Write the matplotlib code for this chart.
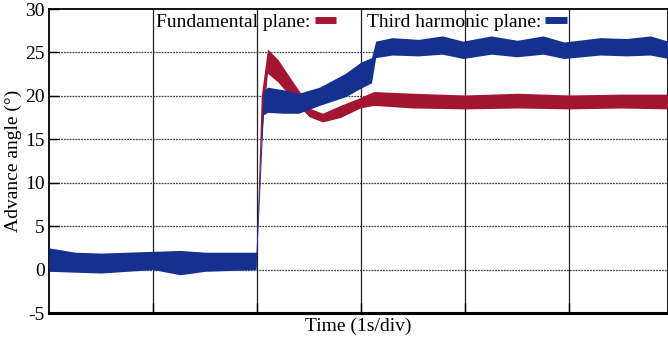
import matplotlib.pyplot as plt
from matplotlib.lines import Line2D

plt.rcParams['font.family'] = ['Liberation Serif', 'DejaVu Serif']
plt.rcParams['axes.unicode_minus'] = False

RED = "#a31530"
BLUE = "#16308f"

# time in divisions (1 s/div); band envelopes
fund_t = [0.0, 0.5, 1.0, 1.5, 1.99, 2.04, 2.1, 2.2, 2.3, 2.42, 2.5, 2.63,
          2.8, 2.99, 3.12, 3.5, 4.0, 4.5, 5.0, 5.5, 5.95]
fund_lo = [0.3, 0.3, 0.3, 0.3, 0.3, 15.0, 22.6, 21.6, 20.2, 18.6, 17.6, 17.0,
           17.5, 18.6, 18.9, 18.6, 18.5, 18.6, 18.5, 18.6, 18.5]
fund_hi = [0.8, 0.8, 0.8, 0.8, 0.8, 20.0, 25.4, 24.2, 22.4, 20.3, 18.6, 18.0,
           18.9, 19.8, 20.5, 20.3, 20.1, 20.3, 20.1, 20.2, 20.2]

third_t = [0.0, 0.25, 0.5, 1.0, 1.26, 1.5, 1.99, 2.06, 2.1, 2.25, 2.4, 2.6,
           2.85, 3.0, 3.1, 3.14, 3.3, 3.55, 3.78, 3.98, 4.25, 4.5, 4.75,
           4.95, 5.3, 5.55, 5.78, 5.95]
third_lo = [-0.2, -0.3, -0.4, 0.0, -0.6, -0.2, 0.0, 17.8, 18.1, 18.0, 18.0,
            18.9, 19.9, 20.9, 21.5, 24.4, 24.7, 24.6, 24.8, 24.3, 24.8, 24.5,
            24.8, 24.3, 24.7, 24.6, 24.7, 24.3]
third_hi = [2.5, 2.0, 1.9, 2.1, 2.2, 2.0, 2.0, 20.5, 21.0, 20.7, 20.3, 21.0,
            22.6, 23.9, 24.4, 26.3, 26.7, 26.5, 26.9, 26.3, 26.9, 26.4, 26.9,
            26.2, 26.7, 26.6, 26.9, 26.3]

y_ticks = [-5, 0, 5, 10, 15, 20, 25, 30]
x_grid = [1, 2, 3, 4, 5]

fig = plt.figure(figsize=(6.68, 3.41), dpi=100)
ax = fig.add_axes([49 / 668, 1 - 313 / 341, 1 - 49 / 668, (313 - 9) / 341])

ax.fill_between(fund_t, fund_lo, fund_hi, color=RED, lw=0, zorder=3)
ax.fill_between(third_t, third_lo, third_hi, color=BLUE, lw=0, zorder=4)

ax.set_xlim(0, 5.95)
ax.set_ylim(-5, 30)
ax.set_yticks(y_ticks)
ax.set_xticks(x_grid)
ax.set_xticklabels([])
ax.tick_params(axis="both", direction="in", length=7, width=1, labelsize=14, color="black")
ax.tick_params(axis="y", pad=3)

for v in y_ticks[1:-1]:
    ax.axhline(v, color="#444444", lw=0.9, ls=(0, (1.5, 0.8)), zorder=1)
for v in x_grid:
    ax.axvline(v, color="#222222", lw=0.9, zorder=1)

for s in ["left", "top", "right"]:
    ax.spines[s].set_linewidth(1.3)
ax.spines["bottom"].set_linewidth(2.2)

ax.set_ylabel("Advance angle (°)", fontsize=14, labelpad=2)
ax.set_xlabel("Time (1s/div)", fontsize=14, labelpad=0)

handles = [Line2D([], [], color=RED, lw=5, solid_capstyle="butt"),
           Line2D([], [], color=BLUE, lw=5, solid_capstyle="butt")]
ax.legend(handles, ["Fundamental plane:", "Third harmonic plane:"], ncol=2,
          loc="upper center", bbox_to_anchor=(0.505, 1.012), frameon=False,
          fontsize=14, markerfirst=False, handlelength=1.1, handletextpad=0.2,
          columnspacing=1.6, borderaxespad=0)

fig.savefig("out.png", dpi=100)
